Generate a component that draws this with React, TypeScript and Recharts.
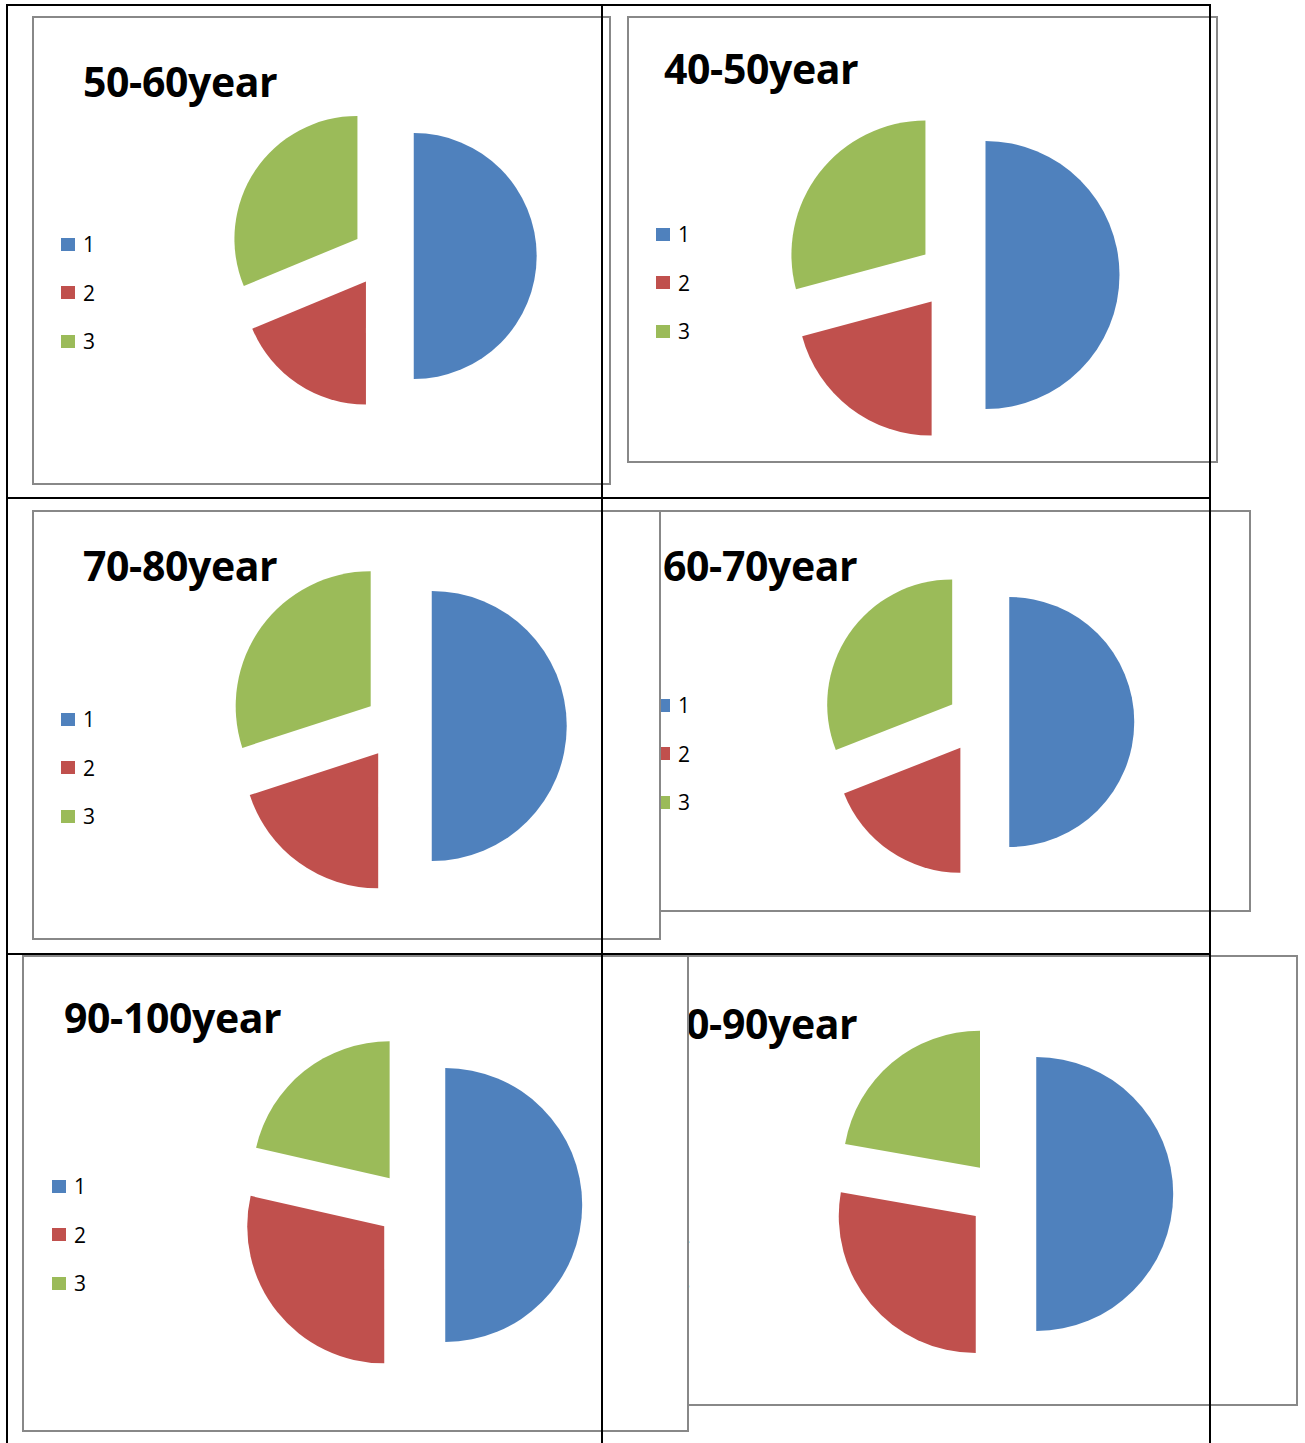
import { PieChart, Pie, Cell, Legend } from 'recharts'

// legend entries + Excel 2007 default palette
const categories = ['1', '2', '3']
const colors = ['#4F81BD', '#C0504D', '#9BBB59']

// slice counts per age group
const age50_60 = [8, 3, 5]
const age40_50 = [12, 5, 7]
const age70_80 = [5, 2, 3]
const age60_70 = [21, 8, 13]
const age90_100 = [7, 4, 3]
const age80_90 = [9, 5, 4]

const titles = ['50-60year', '40-50year', '70-80year', '60-70year', '90-100year', '80-90year']

// layout, page coords: box [l, t, r, b], title [x, capTop], pie [cx, cy, r], legend [x, firstRowCenter]
const charts = [
  { title: titles[0], values: age50_60, box: [32, 16, 611, 485], head: [83, 67], pie: [383, 256, 123], legend: [61, 244] },
  { title: titles[1], values: age40_50, box: [627, 16, 1218, 463], head: [664, 54], pie: [952, 275, 134], legend: [656, 234] },
  { title: titles[3], values: age60_70, box: [627, 510, 1251, 912], head: [663, 551], pie: [978, 722, 125], legend: [656, 705] },
  { title: titles[2], values: age70_80, box: [32, 510, 661, 940], head: [83, 551], pie: [398, 726, 135], legend: [61, 719] },
  { title: titles[5], values: age80_90, box: [627, 955, 1298, 1406], head: [663, 1009], pie: [1002, 1194, 137], legend: [656, 1186] },
  { title: titles[4], values: age90_100, box: [22, 955, 689, 1432], head: [64, 1003], pie: [411, 1205, 137], legend: [52, 1186] },
]

const ROW = 48.5
const EXPLODE = 0.25

function LegendList() {
  return (
    <div>
      {categories.map((c, i) => (
        <div key={c} style={{ display: 'flex', alignItems: 'center', height: ROW }}>
          <span style={{ width: 14, height: 13, background: colors[i], marginRight: 8 }} />
          <span style={{ fontFamily: '"Open Sans", sans-serif', fontSize: 21, color: '#000' }}>{c}</span>
        </div>
      ))}
    </div>
  )
}

function AgeChart({ cfg }: { cfg: any }) {
  const [l, t, r, b] = cfg.box
  const w = r - l
  const h = b - t
  const [pcx, pcy, rad] = cfg.pie
  const data = categories.map((name, i) => ({ name, value: cfg.values[i] }))
  const total = cfg.values.reduce((a: number, v: number) => a + v, 0)

  // one Pie per exploded slice, other slices left unpainted
  let cum = 0
  const pies = cfg.values.map((v: number, i: number) => {
    const mid = ((90 - (360 * (cum + v / 2)) / total) * Math.PI) / 180
    cum += v
    const d = rad * EXPLODE
    return (
      <Pie
        key={i}
        data={data}
        dataKey="value"
        nameKey="name"
        cx={pcx - l + d * Math.cos(mid)}
        cy={pcy - t - d * Math.sin(mid)}
        outerRadius={rad}
        startAngle={90}
        endAngle={-270}
        stroke="none"
        legendType="none"
        isAnimationActive={false}
      >
        {data.map((_, j) => (
          <Cell key={j} fill={j === i ? colors[j] : 'none'} />
        ))}
      </Pie>
    )
  })

  return (
    <div
      style={{
        position: 'absolute',
        left: l,
        top: t,
        width: w,
        height: h,
        background: '#fff',
        boxShadow: 'inset 0 0 0 2px #888',
      }}
    >
      <div
        style={{
          position: 'absolute',
          left: cfg.head[0] - l,
          top: cfg.head[1] - t - 7,
          fontFamily: '"Open Sans", sans-serif',
          fontWeight: 700,
          fontSize: 41,
          letterSpacing: -0.4,
          lineHeight: '42px',
          color: '#000',
          whiteSpace: 'nowrap',
        }}
      >
        {cfg.title}
      </div>
      <div style={{ position: 'absolute', left: 0, top: 0 }}>
        <PieChart width={w} height={h} margin={{ top: 0, right: 0, bottom: 0, left: 0 }}>
          {pies}
          <Legend
            layout="horizontal"
            verticalAlign="middle"
            align="center"
            wrapperStyle={{ left: cfg.legend[0] - l, top: cfg.legend[1] - t - ROW / 2, width: 'auto' }}
            content={() => <LegendList />}
          />
        </PieChart>
      </div>
    </div>
  )
}

const line = (left: number, top: number, width: number, height: number) => (
  <div style={{ position: 'absolute', left, top, width, height, background: '#000' }} />
)

export default function App() {
  return (
    <div style={{ position: 'absolute', left: 0, top: 0, width: 1305, height: 1443, background: '#fff', overflow: 'hidden' }}>
      {charts.map((c) => (
        <AgeChart key={c.title} cfg={c} />
      ))}
      {line(6, 4, 1205, 2)}
      {line(6, 4, 2, 1439)}
      {line(1209, 4, 2, 1439)}
      {line(601, 4, 2, 1439)}
      {line(6, 497, 1205, 2)}
      {line(6, 953, 1205, 2)}
    </div>
  )
}
